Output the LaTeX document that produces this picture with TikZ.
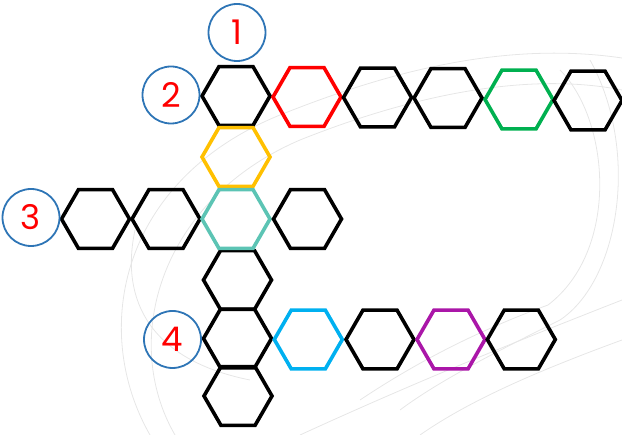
\documentclass[tikz,border=0pt]{standalone}
\usepackage{fontspec}
\setmainfont{Poppins}
\usetikzlibrary{shapes.geometric}
\definecolor{cblue}{HTML}{2E75B6}
\definecolor{hred}{HTML}{FF0000}
\definecolor{hgreen}{HTML}{00B050}
\definecolor{hyellow}{HTML}{FFC000}
\definecolor{hteal}{HTML}{5CC4B4}
\definecolor{hcyan}{HTML}{00B0F0}
\definecolor{hpurple}{HTML}{AA16A8}
\definecolor{bgline}{HTML}{E6E6E6}
\tikzset{
  hexa/.style={regular polygon, regular polygon sides=6, minimum size=68pt, inner sep=0pt, draw=black, line width=3.6pt, line join=miter},
  numc/.style={circle, draw=cblue, line width=1.8pt, minimum size=57pt, inner sep=0pt, text=hred, font=\fontsize{34}{34}\selectfont},
  bg/.style={draw=bgline, line width=0.8pt}
}
\begin{document}
\begin{tikzpicture}[x=1pt,y=-1pt]
\useasboundingbox (0,0) rectangle (622,435);
% faint background curves
\draw[bg] (150,435) .. controls (90,330) and (120,180) .. (280,115) .. controls (380,75) and (500,40) .. (622,58);
\draw[bg] (175,435) .. controls (120,340) and (160,200) .. (300,140) .. controls (400,100) and (520,70) .. (622,90);
\draw[bg] (560,70) .. controls (610,120) and (620,250) .. (548,305) .. controls (480,330) and (420,360) .. (360,400);
\draw[bg] (590,60) .. controls (640,150) and (620,280) .. (560,320) .. controls (500,350) and (440,380) .. (400,410);
\draw[bg] (622,300) .. controls (520,340) and (420,380) .. (300,435);
\draw[bg] (622,340) .. controls (540,370) and (470,400) .. (420,435);
\draw[bg] (250,380) .. controls (150,360) and (120,300) .. (135,230);
% row 1
\node[hexa] (r1a) at (236,96) {};
\node[hexa, draw=hred] (r1b) at (307,97) {};
\node[hexa] (r1c) at (377.5,97.5) {};
\node[hexa] (r1d) at (448,98) {};
\node[hexa, draw=hgreen] (r1e) at (519,99.5) {};
\node[hexa] (r1f) at (588,100.5) {};
% column
\node[hexa, draw=hyellow] (c2) at (236,157) {};
\node[hexa] (c4) at (237.5,280) {};
\node[hexa] (c6) at (238,396) {};
% row 3
\node[hexa] (r3a) at (95.5,219) {};
\node[hexa] (r3b) at (166,219) {};
\node[hexa, draw=hteal] (r3c) at (236,219) {};
\node[hexa] (r3d) at (307.5,219) {};
% row 4
\node[hexa] (r4a) at (237.5,338.5) {};
\node[hexa, draw=hcyan] (r4b) at (308.3,339.5) {};
\node[hexa] (r4c) at (380,339.5) {};
\node[hexa, draw=hpurple] (r4d) at (451,339.5) {};
\node[hexa] (r4e) at (521.3,339.5) {};
% numbered circles
\node[numc] (n1) at (237,32.5) {1};
\node[numc] (n2) at (171,95) {2};
\node[numc] (n3) at (31,217.5) {3};
\node[numc] (n4) at (172.5,339.5) {4};
\end{tikzpicture}
\end{document}
